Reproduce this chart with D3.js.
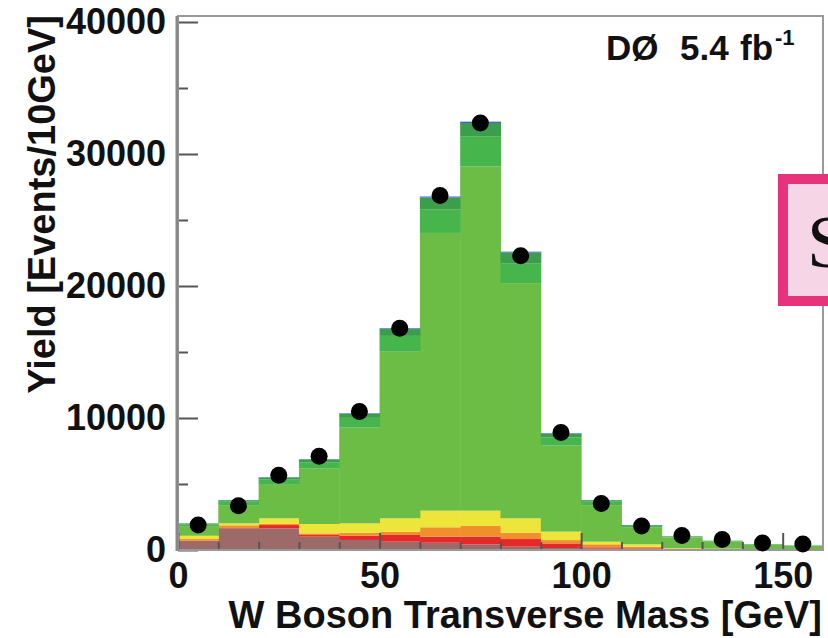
<!DOCTYPE html>
<html>
<head>
<meta charset="utf-8">
<script src="https://cdn.jsdelivr.net/npm/d3@7"></script>
<style>
  html, body { margin: 0; padding: 0; background: #fff; }
  svg { display: block; }
</style>
</head>
<body>
<script>
// bins of W transverse mass, 10 GeV wide
const binLow = [0, 10, 20, 30, 40, 50, 60, 70, 80, 90, 100, 110, 120, 130, 140, 150]

// background components, stacked bottom -> top
const brown = [680, 1640, 1640, 1010, 760, 630, 550, 430, 250, 150, 100, 60, 40, 30, 20, 15]
const red = [30, 30, 250, 125, 320, 510, 460, 580, 580, 350, 100, 70, 20, 10, 10, 5]
const orange = [120, 200, 100, 125, 230, 250, 710, 810, 480, 250, 230, 120, 60, 40, 30, 20]
const yellow = [250, 150, 410, 710, 710, 1010, 1260, 1160, 1090, 640, 200, 180, 30, 20, 10, 10]
const lightGreen = [730, 1380, 2540, 4190, 7250, 12620, 21040, 26070, 17820, 6520, 2770, 1260, 800, 530, 330, 270]
const midGreen = [140, 260, 390, 490, 740, 1200, 1800, 2300, 1470, 630, 260, 130, 70, 50, 30, 20]
const darkGreen = [60, 110, 170, 210, 320, 520, 880, 1000, 840, 280, 110, 60, 30, 20, 15, 10]
const signal = [10, 15, 20, 25, 35, 55, 80, 100, 70, 35, 15, 10, 5, 5, 5, 5]

// observed data
const dataYield = [1890, 3350, 5670, 7110, 10500, 16800, 26850, 32350, 22300, 8900, 3530, 1815, 1100, 790, 530, 450]

const yMajor = [0, 10000, 20000, 30000, 40000]
const yMinor = [5000, 15000, 25000, 35000]
const xMajor = [0, 50, 100, 150]
const xMinor = [10, 20, 30, 40, 60, 70, 80, 90, 110, 120, 130, 140]

const layers = [
  { key: 'brown', values: brown, color: '#9b6a69' },
  { key: 'red', values: red, color: '#e5292a' },
  { key: 'orange', values: orange, color: '#f08f2c' },
  { key: 'yellow', values: yellow, color: '#eee53a' },
  { key: 'lightGreen', values: lightGreen, color: '#6bbd46' },
  { key: 'midGreen', values: midGreen, color: '#45b54c' },
  { key: 'darkGreen', values: darkGreen, color: '#3c9e4a' },
  { key: 'signal', values: signal, color: '#3f5fd8' }
]

const width = 828
const height = 638
const x0 = 178, x1 = 823, yTop = 16, yBot = 550
const sans = '"Liberation Sans", Arial, Helvetica, sans-serif'

const table = binLow.map((lo, i) => {
  const row = { lo: lo }
  layers.forEach(l => { row[l.key] = l.values[i] })
  return row
})

const x = d3.scaleLinear().domain([0, 160]).range([x0, x1])
const y = d3.scaleLinear().domain([0, 40455]).range([yBot, yTop])

const svg = d3.select('body').append('svg')
  .attr('width', width)
  .attr('height', height)

// stacked histogram
const stack = d3.stack().keys(layers.map(l => l.key))
const series = stack(table)

svg.append('g')
  .selectAll('g')
  .data(series)
  .enter()
  .append('g')
  .attr('fill', d => layers.find(l => l.key === d.key).color)
  .selectAll('rect')
  .data(d => d)
  .enter()
  .append('rect')
  .attr('x', d => x(d.data.lo))
  .attr('width', d => x(d.data.lo + 10) - x(d.data.lo) + 0.5)
  .attr('y', d => y(d[1]))
  .attr('height', d => Math.max(0, y(d[0]) - y(d[1])))

// ticks pointing inward
const tickStyle = g => {
  g.select('.domain').remove()
  g.selectAll('.tick line').attr('stroke', '#555').attr('stroke-width', 2)
}

svg.append('g')
  .attr('transform', `translate(${x0},0)`)
  .call(d3.axisRight(y).tickValues(yMajor).tickSize(20).tickFormat(''))
  .call(tickStyle)
svg.append('g')
  .attr('transform', `translate(${x0},0)`)
  .call(d3.axisRight(y).tickValues(yMinor).tickSize(10).tickFormat(''))
  .call(tickStyle)
svg.append('g')
  .attr('transform', `translate(0,${yBot})`)
  .call(d3.axisTop(x).tickValues(xMajor).tickSize(17).tickFormat(''))
  .call(tickStyle)
svg.append('g')
  .attr('transform', `translate(0,${yBot})`)
  .call(d3.axisTop(x).tickValues(xMinor).tickSize(8).tickFormat(''))
  .call(tickStyle)

// frame
svg.append('rect')
  .attr('x', x0).attr('y', yTop)
  .attr('width', x1 - x0).attr('height', yBot - yTop)
  .attr('fill', 'none')
  .attr('stroke', '#999')
  .attr('stroke-width', 2)
svg.append('line')
  .attr('x1', x0 - 1).attr('x2', x0 - 1)
  .attr('y1', yTop).attr('y2', yBot + 1)
  .attr('stroke', '#888')
  .attr('stroke-width', 3)

// tick labels
const labelStyle = sel => sel
  .style('font-family', sans)
  .style('font-weight', 'bold')
  .style('font-size', '36px')
  .attr('fill', '#111')

const yLab = svg.append('g')
  .attr('transform', `translate(${x0},0)`)
  .call(d3.axisLeft(y).tickValues(yMajor).tickSize(0).tickPadding(12).tickFormat(d3.format('d')))
yLab.select('.domain').remove()
yLab.selectAll('text').call(labelStyle)

const xLab = svg.append('g')
  .attr('transform', `translate(0,${yBot})`)
  .call(d3.axisBottom(x).tickValues(xMajor).tickSize(0).tickPadding(12).tickFormat(d3.format('d')))
xLab.select('.domain').remove()
xLab.selectAll('text').call(labelStyle)

// data points
svg.append('g')
  .selectAll('circle')
  .data(dataYield)
  .enter()
  .append('circle')
  .attr('cx', (d, i) => x(binLow[i] + 5))
  .attr('cy', d => y(d))
  .attr('r', 8.5)
  .attr('fill', '#000')

// axis titles
svg.append('text')
  .attr('x', 822)
  .attr('y', 628)
  .attr('text-anchor', 'end')
  .call(labelStyle)
  .style('font-size', '38px')
  .text('W Boson Transverse Mass [GeV]')

svg.append('text')
  .attr('transform', 'translate(55,15) rotate(-90)')
  .attr('text-anchor', 'end')
  .call(labelStyle)
  .style('font-size', '38px')
  .text('Yield [Events/10GeV]')

// experiment label
const lab = svg.append('text')
  .attr('y', 60)
  .call(labelStyle)
  .style('font-size', '35px')
lab.append('tspan').attr('x', 606).text('DØ')
lab.append('tspan').attr('x', 680).text('5.4')
lab.append('tspan').attr('x', 740).text('fb')
lab.append('tspan').attr('x', 775).attr('dy', -15).style('font-size', '22px').text('-1')

// pink box partly outside the page
svg.append('rect')
  .attr('x', 783).attr('y', 179)
  .attr('width', 80).attr('height', 122)
  .attr('fill', '#f6d5e6')
  .attr('stroke', '#e6337b')
  .attr('stroke-width', 10)
svg.append('text')
  .attr('x', 807)
  .attr('y', 267)
  .style('font-family', '"Liberation Serif", "Times New Roman", serif')
  .style('font-size', '75px')
  .attr('fill', '#111')
  .text('S')
</script>
</body>
</html>
